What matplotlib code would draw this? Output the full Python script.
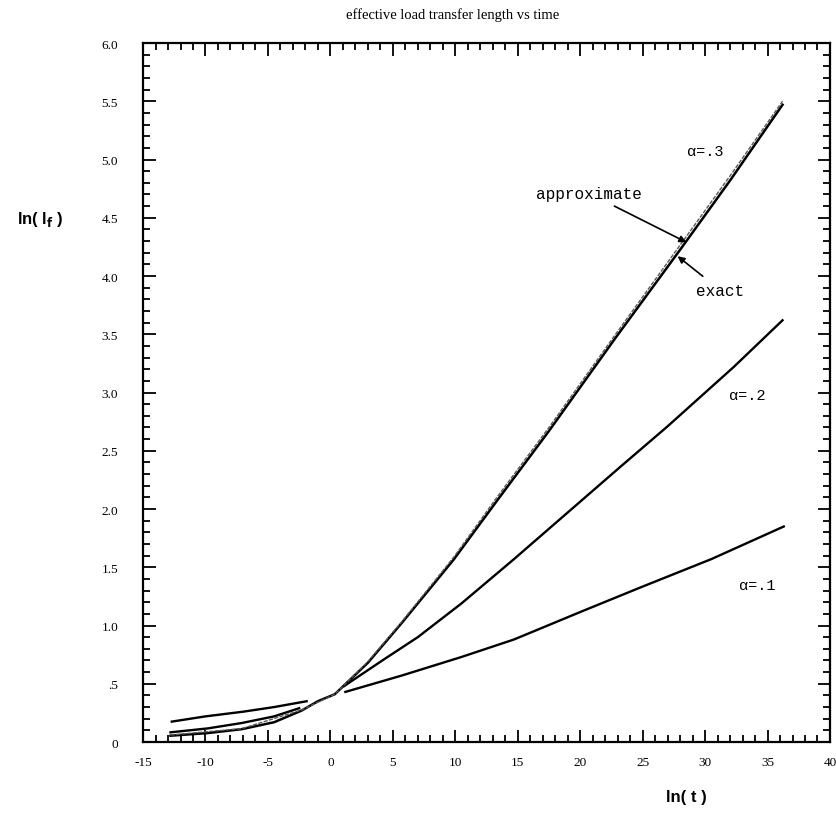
import matplotlib
matplotlib.use("Agg")
import matplotlib.pyplot as plt
from matplotlib.ticker import MultipleLocator, FuncFormatter

# ln(t) vs ln(l_f)
# alpha = .1 (short-time and long-time branches)
a1_left_x = [-12.7, -10.0, -7.0, -4.5, -1.9]
a1_left_y = [0.175, 0.22, 0.26, 0.30, 0.35]
a1_right_x = [1.2, 5.7, 10.5, 14.7, 20.1, 24.9, 30.5, 36.3]
a1_right_y = [0.43, 0.57, 0.73, 0.88, 1.12, 1.33, 1.57, 1.85]

# alpha = .2
a2_left_x = [-12.8, -9.8, -7.1, -4.5, -2.5]
a2_left_y = [0.083, 0.117, 0.163, 0.22, 0.29]
a2_right_x = [1.1, 4.3, 7.0, 10.5, 14.7, 19.0, 23.3, 27.0, 32.3, 36.2]
a2_right_y = [0.48, 0.71, 0.90, 1.19, 1.57, 1.97, 2.37, 2.71, 3.22, 3.62]

# alpha = .3, exact and approximate
a3_x = [-12.8, -9.8, -7.1, -4.5, -2.3, -1.0, 0.35, 3.0, 5.7, 8.3, 9.9, 13.4, 17.5, 22.7, 28.1, 32.0, 36.2]
a3_y = [0.054, 0.077, 0.11, 0.17, 0.27, 0.35, 0.41, 0.68, 1.02, 1.36, 1.57, 2.08, 2.67, 3.45, 4.24, 4.82, 5.47]
a3_approx_x = [-12.8, -7.1, -2.3, 0.35, 3.0, 5.7, 9.9, 13.4, 17.5, 22.7, 28.1, 32.0, 36.2]
a3_approx_y = [0.06, 0.115, 0.275, 0.41, 0.69, 1.03, 1.59, 2.11, 2.70, 3.48, 4.28, 4.86, 5.50]


def main():
    fig = plt.figure(figsize=(8.36, 8.2), dpi=100)
    ax = fig.add_axes([0.1711, 0.0939, 0.8217, 0.8524])

    # curves
    ax.plot(a1_left_x, a1_left_y, color="black", lw=1.7)
    ax.plot(a1_right_x, a1_right_y, color="black", lw=1.7)
    ax.plot(a2_left_x, a2_left_y, color="black", lw=1.7)
    ax.plot(a2_right_x, a2_right_y, color="black", lw=1.7)
    ax.plot(a3_x, a3_y, color="black", lw=1.8)
    ax.plot(a3_approx_x, a3_approx_y, color="0.35", lw=1.0, ls=(0, (3, 1)))

    ax.set_xlim(-15, 40)
    ax.set_ylim(0, 6)

    # ticks: inward on all four sides
    ax.xaxis.set_major_locator(MultipleLocator(5))
    ax.xaxis.set_minor_locator(MultipleLocator(1))
    ax.yaxis.set_major_locator(MultipleLocator(0.5))
    ax.yaxis.set_minor_locator(MultipleLocator(0.1))
    ax.tick_params(which="both", direction="in", top=True, right=True, width=1.3)
    ax.tick_params(which="major", length=9)
    ax.tick_params(which="minor", length=5)
    ax.tick_params(axis="x", pad=10)
    ax.tick_params(axis="y", pad=18)

    def ylab(v, pos):
        if abs(v) < 1e-9:
            return "0"
        if abs(v - 0.5) < 1e-9:
            return ".5"
        return f"{v:.1f}"

    ax.yaxis.set_major_formatter(FuncFormatter(ylab))
    ax.xaxis.set_major_formatter(FuncFormatter(lambda v, p: f"{v:.0f}"))
    for lab in ax.get_xticklabels() + ax.get_yticklabels():
        lab.set_fontfamily("Liberation Serif")
        lab.set_fontsize(9.5)
    for sp in ax.spines.values():
        sp.set_linewidth(1.6)

    mono = ["Liberation Mono", "DejaVu Sans Mono"]
    ax.text(30.0, 5.07, "α=.3", family=mono, fontsize=11, ha="center", va="center")
    ax.text(33.4, 2.98, "α=.2", family=mono, fontsize=11, ha="center", va="center")
    ax.text(34.2, 1.35, "α=.1", family=mono, fontsize=11, ha="center", va="center")

    ax.annotate("approximate", xy=(28.5, 4.29), xytext=(20.7, 4.71),
                family=mono, fontsize=11.5, ha="center", va="center",
                arrowprops=dict(arrowstyle="-|>", color="black", lw=1.2,
                                mutation_scale=10, shrinkA=4, shrinkB=0))
    ax.annotate("exact", xy=(27.8, 4.17), xytext=(31.2, 3.88),
                family=mono, fontsize=11.5, ha="center", va="center",
                arrowprops=dict(arrowstyle="-|>", color="black", lw=1.2,
                                mutation_scale=10, shrinkA=4, shrinkB=0))

    # titles and axis labels
    fig.text(0.542, 0.981, "effective load transfer length vs time",
             family="Liberation Serif", fontsize=10.5, ha="center", va="center")
    fig.text(0.821, 0.028, "ln( t )", family="Liberation Sans", fontweight="bold",
             fontsize=12, ha="center", va="center")
    fig.text(0.048, 0.732, r"ln( l$_\mathbf{f}$ )", family="Liberation Sans",
             fontweight="bold", fontsize=12, ha="center", va="center")

    fig.savefig("out.png", dpi=100, facecolor="white")


if __name__ == "__main__":
    main()
